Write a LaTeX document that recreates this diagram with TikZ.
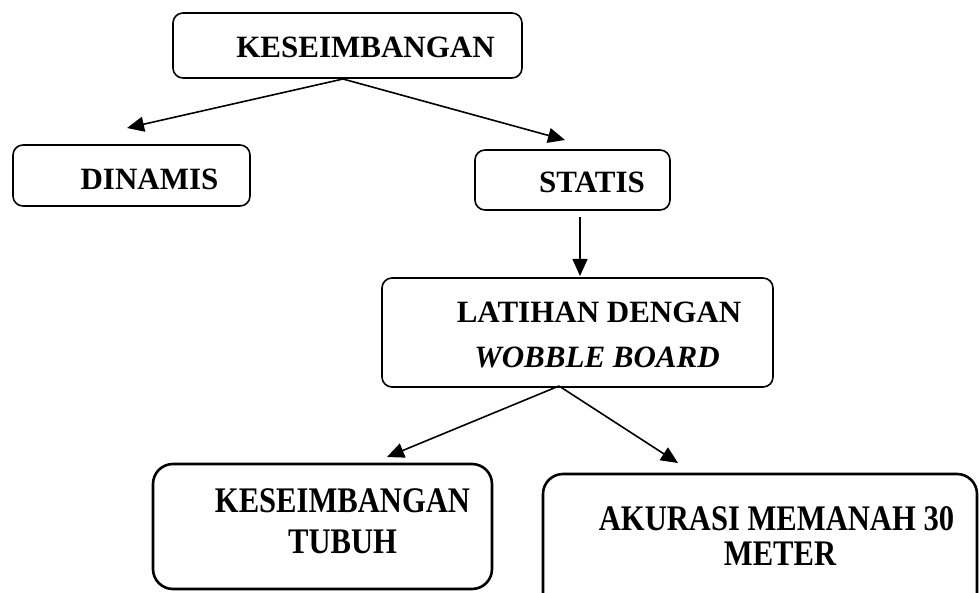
\documentclass[tikz,border=0pt]{standalone}
\usepackage{fontspec}
\setmainfont{Liberation Serif}
\newfontfamily\condfont[FakeStretch=0.85]{Liberation Serif}
\usetikzlibrary{arrows.meta}
\begin{document}
\begin{tikzpicture}[x=1pt,y=-1pt,
  thinbox/.style={draw, line width=1.6pt, rounded corners=10pt, inner sep=0pt},
  thickbox/.style={draw, line width=2.6pt, rounded corners=20pt, inner sep=0pt},
  lbl/.style={anchor=base, inner sep=0pt, font=\fontsize{31}{36}\selectfont\bfseries},
  lblc/.style={anchor=base, inner sep=0pt, font=\fontsize{36}{40}\selectfont\condfont\bfseries},
  conn/.style={line width=1.6pt, -{Triangle[length=17pt,width=15pt]}}]
\useasboundingbox (0,0) rectangle (979,593);

% boxes
\node[thinbox, minimum width=349pt, minimum height=65pt] (top) at (347.5,45.5) {};
\node[thinbox, minimum width=237pt, minimum height=61pt] (din) at (131.5,175.5) {};
\node[thinbox, minimum width=195pt, minimum height=60pt] (sta) at (572.5,180) {};
\node[thinbox, minimum width=391pt, minimum height=109pt] (lat) at (577.5,332.5) {};
\node[thickbox, minimum width=339pt, minimum height=125pt] (keb) at (322.5,526.5) {};
\node[thickbox, minimum width=434pt, minimum height=140pt] (aku) at (760,544) {};

% texts
\node[lbl] (ttop) at (365.5,58) {KESEIMBANGAN};
\node[lbl] (tdin) at (149.5,190) {DINAMIS};
\node[lbl] (tsta) at (592,193) {STATIS};
\node[lbl] (tlat1) at (599,323) {LATIHAN DENGAN};
\node[lbl] (tlat2) at (597,367) {\itshape WOBBLE BOARD};
\node[lblc] (tkeb1) at (342.5,512) {KESEIMBANGAN};
\node[lblc] (tkeb2) at (342.5,553) {TUBUH};
\node[lblc] (taku1) at (776.5,530) {AKURASI MEMANAH 30};
\node[lblc] (taku2) at (780,565) {METER};

% connector endpoints
\coordinate (s1) at (343,79);
\coordinate (e1) at (127,128);
\coordinate (e2) at (565,140);
\coordinate (s3) at (580,217);
\coordinate (e3) at (580,276);
\coordinate (s4) at (559,386);
\coordinate (e4) at (387,457);
\coordinate (e5) at (678,463);

\draw[conn] (s1) -- (e1);
\draw[conn] (s1) -- (e2);
\draw[conn] (s3) -- (e3);
\draw[conn] (s4) -- (e4);
\draw[conn] (s4) -- (e5);
\end{tikzpicture}
\end{document}
